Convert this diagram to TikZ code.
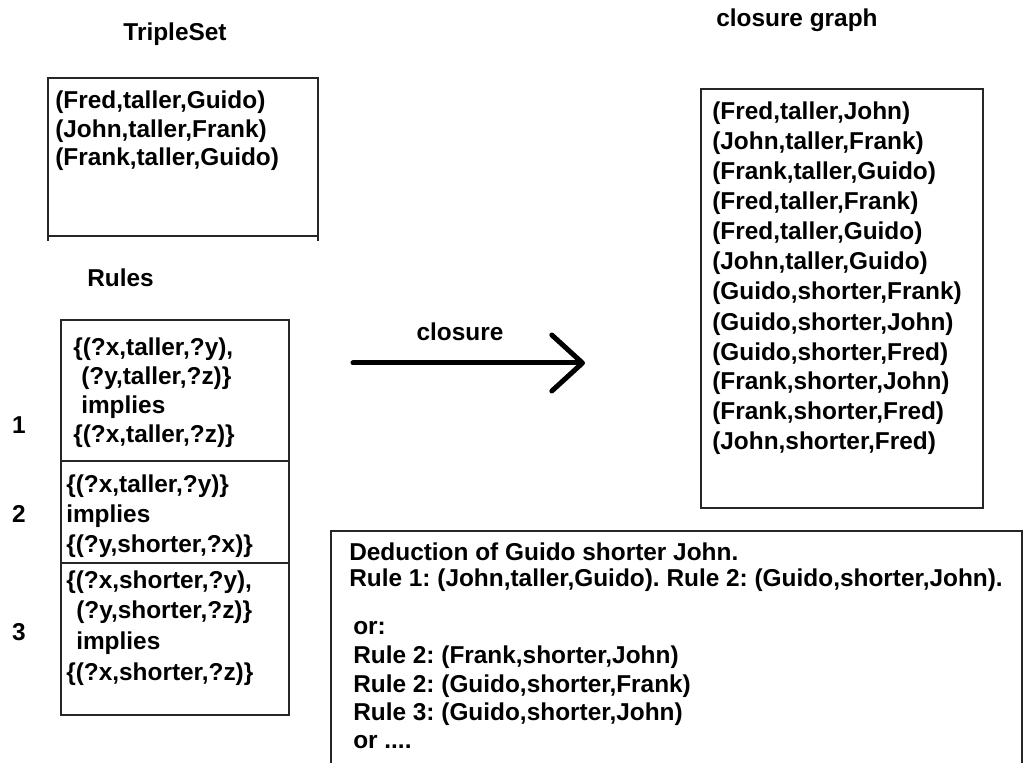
\documentclass[tikz,border=0pt]{standalone}
\usepackage{fontspec}
\setmainfont{Liberation Sans}
\usetikzlibrary{arrows.meta}
\frenchspacing
\begin{document}
\begin{tikzpicture}[x=0.75pt,y=-0.75pt,
  txt/.style={font=\fontsize{18.3}{22}\selectfont\bfseries, inner sep=0pt, anchor=base west},
  frame/.style={draw=black!85, line width=1.4pt},
  flow/.style={line width=3.75pt, line cap=round,
    -{Straight Barb[length=23pt,width=42pt,round]}}]
\useasboundingbox (0,0) rectangle (1026,763);
\fill[white] (0,0) rectangle (1026,763);

% --- triple set -------------------------------------------------------
\node[txt, anchor=base] (tstitle) at (175,41) {TripleSet};
\draw[frame] (48,241) -- (48,78) -- (318,78) -- (318,241);
\draw[frame] (48,236) -- (318,236);
\node[txt] (ts1) at (55,109)   {(Fred,taller,Guido)};
\node[txt] (ts2) at (55,137.5) {(John,taller,Frank)};
\node[txt] (ts3) at (55,166)   {(Frank,taller,Guido)};

% --- rules --------------------------------------------------------------
\node[txt] (rtitle) at (87,287) {Rules};
\draw[frame] (61,320) rectangle (289,715);
\draw[frame] (61,461) -- (289,461);
\draw[frame] (61,563) -- (289,563);

\node[txt, anchor=base] (n1) at (19,433) {1};
\node[txt, anchor=base] (n2) at (19,522) {2};
\node[txt, anchor=base] (n3) at (19,640) {3};

\node[txt] (r1a) at (73,355) {\{(?x,taller,?y),};
\node[txt] (r1b) at (81,384) {(?y,taller,?z)\}};
\node[txt] (r1c) at (81,413) {implies};
\node[txt] (r1d) at (73,442) {\{(?x,taller,?z)\}};

\node[txt] (r2a) at (66,492) {\{(?x,taller,?y)\}};
\node[txt] (r2b) at (66,522) {implies};
\node[txt] (r2c) at (66,552) {\{(?y,shorter,?x)\}};

\node[txt] (r3a) at (66,588) {\{(?x,shorter,?y),};
\node[txt] (r3b) at (76,618) {(?y,shorter,?z)\}};
\node[txt] (r3c) at (76,649) {implies};
\node[txt] (r3d) at (66,680) {\{(?x,shorter,?z)\}};

% --- closure arrow ------------------------------------------------------
\coordinate (cstart) at (353,363);
\coordinate (cend) at (585,363);
\draw[flow] (cstart) -- (cend);
\node[txt, anchor=base] (clabel) at (460,340) {closure};

% --- closure graph ------------------------------------------------------
\node[txt] (cgtitle) at (716,27) {closure graph};
\draw[frame] (701,89) rectangle (983,508);
\node[txt] (cg1)  at (712,120) {(Fred,taller,John)};
\node[txt] (cg2)  at (712,150) {(John,taller,Frank)};
\node[txt] (cg3)  at (712,180) {(Frank,taller,Guido)};
\node[txt] (cg4)  at (712,210) {(Fred,taller,Frank)};
\node[txt] (cg5)  at (712,240) {(Fred,taller,Guido)};
\node[txt] (cg6)  at (712,270) {(John,taller,Guido)};
\node[txt] (cg7)  at (712,300) {(Guido,shorter,Frank)};
\node[txt] (cg8)  at (712,330) {(Guido,shorter,John)};
\node[txt] (cg9)  at (712,360) {(Guido,shorter,Fred)};
\node[txt] (cg10) at (712,390) {(Frank,shorter,John)};
\node[txt] (cg11) at (712,420) {(Frank,shorter,Fred)};
\node[txt] (cg12) at (712,450) {(John,shorter,Fred)};

% --- deduction ----------------------------------------------------------
\draw[frame] (331,763) -- (331,531) -- (1022,531) -- (1022,763);
\node[txt] (d1) at (349,560) {Deduction of Guido shorter John.};
\node[txt] (d2) at (349,586) {Rule 1: (John,taller,Guido). Rule 2: (Guido,shorter,John).};
\node[txt] (d3) at (353,634) {or:};
\node[txt] (d4) at (353,663) {Rule 2: (Frank,shorter,John)};
\node[txt] (d5) at (353,692) {Rule 2: (Guido,shorter,Frank)};
\node[txt] (d6) at (353,720) {Rule 3: (Guido,shorter,John)};
\node[txt] (d7) at (353,748) {or ....};
\end{tikzpicture}
\end{document}
